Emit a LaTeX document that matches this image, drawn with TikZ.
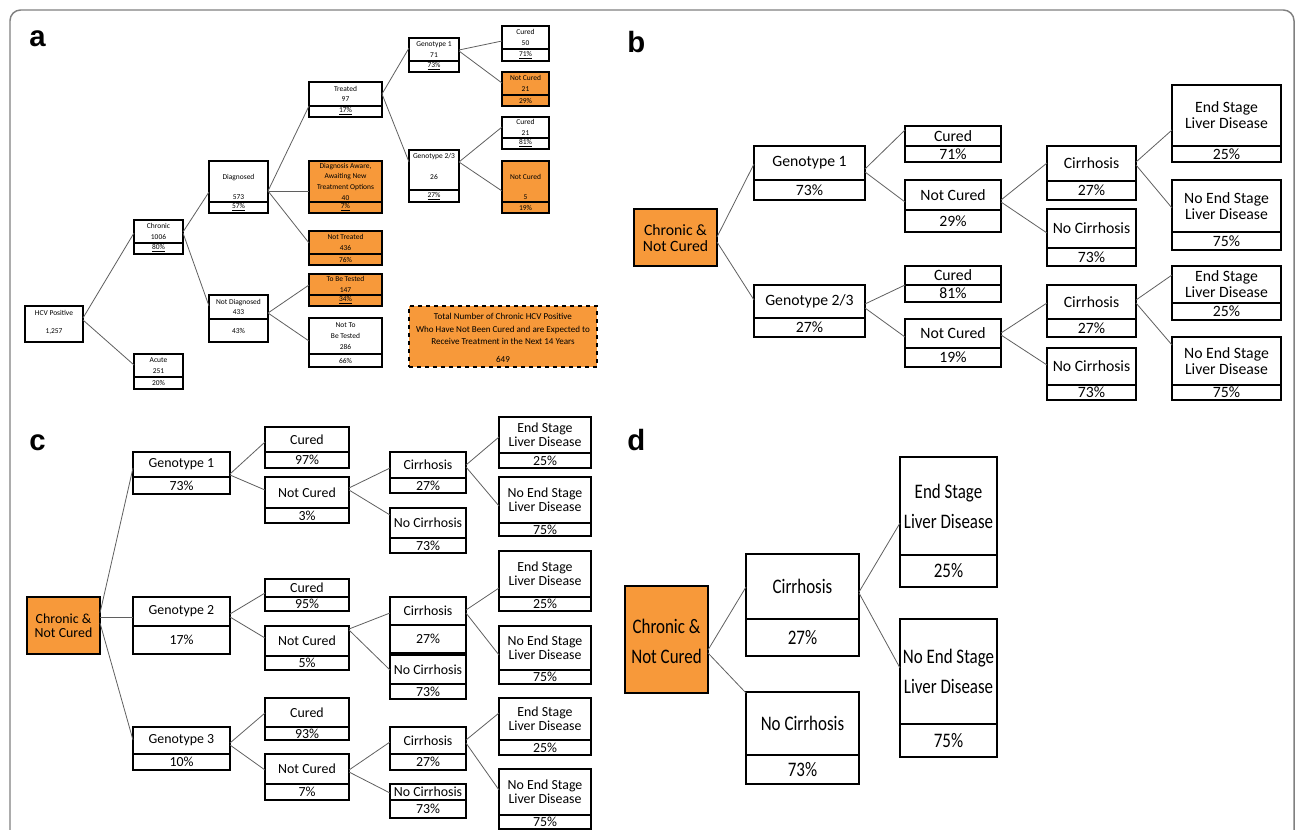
\documentclass[tikz,border=0pt]{standalone}
\usepackage{fontspec}
\setmainfont{Carlito}
\newfontfamily\narrowfont[FakeStretch=0.82]{Carlito}
\newfontfamily\panelfont{Liberation Sans}
\definecolor{orng}{RGB}{247,153,58}
\definecolor{connc}{RGB}{95,95,95}
\newcommand\bx[9]{%
  \node[box,#7,minimum width={(#4-#2)*0.75pt},minimum height={(#5-#3)*0.75pt}] (#1) at ({(#2+#4)/2},{(#3+#5)/2}) {};
  \draw[divl] (#1.west |- 0,#6) -- (#1.east |- 0,#6);
  \node[txt,tt] (#1-t) at ({(#2+#4)/2},{(#3+#6)/2}) {#8};
  \node[txt] (#1-p) at ({(#2+#4)/2},{(#6+#5)/2}) {#9};
}
\tikzset{
  tt/.style={},
  conn/.style={draw=connc, line width=0.6pt},
  panellabel/.style={font=\panelfont\bfseries\fontsize{22pt}{22pt}\selectfont, inner sep=0pt, anchor=base west},
}
\begin{document}
\begin{tikzpicture}[x=0.75pt,y=-0.75pt]
\useasboundingbox (0,0) rectangle (1295,830);
\draw[draw=gray, line width=1.1pt, rounded corners=8pt] (10,834) -- (10,10) -- (1294,10) -- (1294,834);

\node[panellabel] (la) at (29,47) {a};
\node[panellabel] (lb) at (627,53) {b};
\node[panellabel] (lc) at (29,450) {c};
\node[panellabel] (ld) at (627,450) {d};

% ---------------- panel a ----------------
\begin{scope}
\tikzset{
  box/.style={draw=black, line width=0.9pt, inner sep=0pt, outer sep=0pt},
  divl/.style={draw=black, line width=0.9pt},
  txt/.style={inner sep=0pt, align=center, font=\fontsize{5.6pt}{8pt}\selectfont},
}
\tikzset{tt/.style={yshift=1.5pt}}
\bx{hcv}{25}{306}{83}{342}{342}{}{HCV Positive\\[5.5pt]1,257}{}
\tikzset{tt/.style={}}
\bx{chronic}{134}{220}{183}{254}{243}{}{Chronic\\1006}{\underline{80\%}}
\bx{acute}{134}{354}{183}{389}{377}{}{Acute\\251}{20\%}
\tikzset{tt/.style={yshift=-4pt}}
\bx{diag}{209}{161}{268}{213}{202}{}{Diagnosed\\[7pt]573}{\underline{57\%}}
\tikzset{tt/.style={}}
\bx{notdiag}{209}{295}{268}{342}{319}{}{Not Diagnosed\\433}{43\%}
\bx{treated}{309}{82}{382}{117}{106}{}{Treated\\97}{\underline{17\%}}
\bx{aware}{309}{161}{382}{213}{202}{fill=orng}{Diagnosis Aware,\\Awaiting New\\Treatment Options\\40}{\underline{7\%}}
\bx{nottreated}{309}{231}{382}{265}{254}{fill=orng}{Not Treated\\436}{76\%}
\bx{tobetested}{309}{274}{382}{306}{295}{fill=orng}{To Be Tested\\147}{\underline{34\%}}
\bx{nottobe}{309}{318}{382}{367}{354}{}{Not To\\Be Tested\\286}{66\%}
\bx{gonea}{409}{38}{459}{72}{61}{}{Genotype 1\\71}{\underline{73\%}}
\tikzset{tt/.style={yshift=2.6pt}}
\bx{gtwoa}{409}{150}{459}{202}{190}{}{Genotype 2/3\\[7.75pt]26}{\underline{27\%}}
\tikzset{tt/.style={}}
\bx{curedonea}{502}{26}{549}{61}{49}{}{Cured\\50}{\underline{71\%}}
\bx{notcuredonea}{502}{72}{549}{106}{95}{fill=orng}{Not Cured\\21}{29\%}
\bx{curedtwoa}{502}{117}{549}{149}{138}{}{Cured\\21}{\underline{81\%}}
\tikzset{tt/.style={yshift=-4pt}}
\bx{notcuredtwoa}{502}{161}{549}{213}{202}{fill=orng}{Not Cured\\[7pt]5}{19\%}
\tikzset{tt/.style={}}
\node[box, fill=orng, dashed, minimum width={188*0.75pt}, minimum height={61*0.75pt}] (total) at (503,336.5) {};
\node[inner sep=0pt, align=center, font=\fontsize{6.8pt}{9.4pt}\selectfont] (total-t) at (503,338)
  {Total Number of Chronic HCV Positive\\Who Have Not Been Cured and are Expected to\\Receive Treatment in the Next 14 Years\\[4pt]649};

\draw[conn] (hcv.east |- 0,318) -- (chronic.west |- 0,233);
\draw[conn] (hcv.east |- 0,320) -- (acute.west |- 0,365);
\draw[conn] (chronic.east |- 0,232) -- (diag.west |- 0,192);
\draw[conn] (chronic.east |- 0,233) -- (notdiag.west |- 0,306);
\draw[conn] (diag.east |- 0,191) -- (treated.west |- 0,106);
\draw[conn] (diag.east |- 0,191) -- (aware.west |- 0,191);
\draw[conn] (diag.east |- 0,191) -- (nottreated.west |- 0,243);
\draw[conn] (notdiag.east |- 0,313) -- (tobetested.west |- 0,285);
\draw[conn] (notdiag.east |- 0,313) -- (nottobe.west |- 0,341);
\draw[conn] (treated.east |- 0,94) -- (gonea.west |- 0,48);
\draw[conn] (treated.east |- 0,94) -- (gtwoa.west |- 0,162);
\draw[conn] (gonea.east |- 0,50) -- (curedonea.west |- 0,41);
\draw[conn] (gonea.east |- 0,51) -- (notcuredonea.west |- 0,83);
\draw[conn] (gtwoa.east |- 0,162) -- (curedtwoa.west |- 0,127);
\draw[conn] (gtwoa.east |- 0,162) -- (notcuredtwoa.west |- 0,191);
\end{scope}

% ---------------- panel b ----------------
\begin{scope}
\tikzset{
  box/.style={draw=black, line width=1.4pt, inner sep=0pt, outer sep=0pt},
  divl/.style={draw=black, line width=1.4pt},
  txt/.style={inner sep=0pt, align=center, font=\fontsize{11.8pt}{12pt}\selectfont},
}
\node[box, fill=orng, minimum width={83*0.75pt}, minimum height={57*0.75pt}] (chb) at (675.5,237.5) {};
\node[txt] (chb-t) at (675.5,238) {Chronic \&\\Not Cured};
\bx{gob}{754}{146}{865}{200}{180}{}{Genotype 1}{73\%}
\bx{gtb}{754}{285}{865}{337}{318}{}{Genotype 2/3}{27\%}
\bx{cob}{905}{126}{1001}{162}{146}{}{Cured}{71\%}
\bx{ncob}{905}{180}{1001}{232}{210}{}{Not Cured}{29\%}
\bx{ctb}{905}{266}{1001}{302}{285}{}{Cured}{81\%}
\bx{nctb}{905}{319}{1001}{367}{348}{}{Not Cured}{19\%}
\bx{ciob}{1047}{146}{1136}{200}{181}{}{Cirrhosis}{27\%}
\bx{nciob}{1047}{209}{1136}{266}{248}{}{No Cirrhosis}{73\%}
\bx{esob}{1172}{85}{1281}{162}{146}{}{End Stage\\Liver Disease}{25\%}
\bx{nesob}{1172}{180}{1281}{250}{232}{}{No End Stage\\Liver Disease}{75\%}
\bx{citb}{1047}{285}{1136}{337}{319}{}{Cirrhosis}{27\%}
\bx{ncitb}{1047}{348}{1136}{400}{385}{}{No Cirrhosis}{73\%}
\bx{estb}{1172}{266}{1281}{320}{303}{}{End Stage\\Liver Disease}{25\%}
\bx{nestb}{1172}{337}{1281}{400}{385}{}{No End Stage\\Liver Disease}{75\%}

\draw[conn] (chb.east |- 0,237) -- (gob.west |- 0,164);
\draw[conn] (chb.east |- 0,242) -- (gtb.west |- 0,300);
\draw[conn] (gob.east |- 0,169) -- (cob.west |- 0,130);
\draw[conn] (gob.east |- 0,172) -- (ncob.west |- 0,202);
\draw[conn] (gtb.east |- 0,304) -- (ctb.west |- 0,285);
\draw[conn] (gtb.east |- 0,308) -- (nctb.west |- 0,337);
\draw[conn] (ncob.east |- 0,200) -- (ciob.west |- 0,163);
\draw[conn] (ncob.east |- 0,202) -- (nciob.west |- 0,233);
\draw[conn] (ciob.east |- 0,162) -- (esob.west |- 0,130);
\draw[conn] (ciob.east |- 0,165) -- (nesob.west |- 0,208);
\draw[conn] (nctb.east |- 0,333) -- (citb.west |- 0,303);
\draw[conn] (nctb.east |- 0,335) -- (ncitb.west |- 0,365);
\draw[conn] (citb.east |- 0,300) -- (estb.west |- 0,275);
\draw[conn] (citb.east |- 0,303) -- (nestb.west |- 0,345);
\end{scope}

% ---------------- panel c ----------------
\begin{scope}
\tikzset{
  box/.style={draw=black, line width=1.3pt, inner sep=0pt, outer sep=0pt},
  divl/.style={draw=black, line width=1.3pt},
  txt/.style={inner sep=0pt, align=center, font=\fontsize{10.4pt}{10.5pt}\selectfont},
}
\node[box, fill=orng, minimum width={73*0.75pt}, minimum height={57*0.75pt}] (chc) at (63.5,625.5) {};
\node[txt] (chc-t) at (63.5,625.5) {Chronic \&\\Not Cured};
\bx{goc}{133}{452}{230}{494}{477}{}{Genotype 1}{73\%}
\bx{gtc}{133}{597}{230}{654}{626}{}{Genotype 2}{17\%}
\bx{ghc}{133}{727}{230}{770}{754}{}{Genotype 3}{10\%}
\bx{coc}{265}{427}{349}{468}{452}{}{Cured}{97\%}
\bx{ncoc}{265}{477}{349}{523}{508}{}{Not Cured}{3\%}
\bx{ctc}{265}{579}{349}{611}{597}{}{Cured}{95\%}
\bx{nctc}{265}{626}{349}{670}{656}{}{Not Cured}{5\%}
\bx{chhc}{265}{698}{349}{740}{727}{}{Cured}{93\%}
\bx{nchc}{265}{754}{349}{800}{784}{}{Not Cured}{7\%}
\bx{cioc}{390}{452}{466}{493}{478}{}{Cirrhosis}{27\%}
\bx{ncioc}{390}{508}{466}{553}{538}{}{No Cirrhosis}{73\%}
\bx{esoc}{499}{417}{591}{468}{453}{}{End Stage\\Liver Disease}{25\%}
\bx{nesoc}{499}{477}{591}{536}{523}{}{No End Stage\\Liver Disease}{75\%}
\bx{citc}{390}{597}{466}{653}{625}{}{Cirrhosis}{27\%}
\bx{ncitc}{390}{655}{466}{699}{684}{}{No Cirrhosis}{73\%}
\bx{estc}{499}{551}{591}{611}{597}{}{End Stage\\Liver Disease}{25\%}
\bx{nestc}{499}{626}{591}{684}{670}{}{No End Stage\\Liver Disease}{75\%}
\bx{cihc}{390}{727}{466}{770}{754}{}{Cirrhosis}{27\%}
\bx{ncihc}{390}{784}{466}{818}{800}{}{No Cirrhosis}{73\%}
\bx{eshc}{499}{698}{591}{755}{740}{}{End Stage\\Liver Disease}{25\%}
\bx{neshc}{499}{769}{591}{829}{815}{}{No End Stage\\Liver Disease}{75\%}

\draw[conn] (chc.east |- 0,613) -- (goc.west |- 0,468);
\draw[conn] (chc.east |- 0,617) -- (gtc.west |- 0,617);
\draw[conn] (chc.east |- 0,623) -- (ghc.west |- 0,740);
\draw[conn] (goc.east |- 0,474) -- (coc.west |- 0,442);
\draw[conn] (goc.east |- 0,475) -- (ncoc.west |- 0,490);
\draw[conn] (gtc.east |- 0,614) -- (ctc.west |- 0,593);
\draw[conn] (gtc.east |- 0,617) -- (nctc.west |- 0,638);
\draw[conn] (ghc.east |- 0,743) -- (chhc.west |- 0,713);
\draw[conn] (ghc.east |- 0,745) -- (nchc.west |- 0,770);
\draw[conn] (ncoc.east |- 0,488) -- (cioc.west |- 0,468);
\draw[conn] (ncoc.east |- 0,490) -- (ncioc.west |- 0,515);
\draw[conn] (cioc.east |- 0,465) -- (esoc.west |- 0,437);
\draw[conn] (cioc.east |- 0,467) -- (nesoc.west |- 0,506);
\draw[conn] (nctc.east |- 0,629) -- (citc.west |- 0,613);
\draw[conn] (nctc.east |- 0,630) -- (ncitc.west |- 0,670);
\draw[conn] (citc.east |- 0,610) -- (estc.west |- 0,588);
\draw[conn] (citc.east |- 0,613) -- (nestc.west |- 0,655);
\draw[conn] (nchc.east |- 0,770) -- (cihc.west |- 0,742);
\draw[conn] (nchc.east |- 0,772) -- (ncihc.west |- 0,793);
\draw[conn] (cihc.east |- 0,740) -- (eshc.west |- 0,713);
\draw[conn] (cihc.east |- 0,743) -- (neshc.west |- 0,790);
\end{scope}

% ---------------- panel d ----------------
\begin{scope}
\tikzset{
  box/.style={draw=black, line width=1.5pt, inner sep=0pt, outer sep=0pt},
  divl/.style={draw=black, line width=1.5pt},
  txt/.style={inner sep=0pt, align=center, font=\narrowfont\fontsize{15.5pt}{22.5pt}\selectfont},
}
\node[box, fill=orng, minimum width={83*0.75pt}, minimum height={107*0.75pt}] (chd) at (666.5,639.5) {};
\node[txt] (chd-t) at (666.5,641) {Chronic \&\\Not Cured};
\bx{cid}{746}{554}{859}{656}{619}{}{Cirrhosis}{27\%}
\bx{ncid}{746}{692}{859}{784}{755}{}{No Cirrhosis}{73\%}
\bx{esd}{900}{457}{997}{587}{555}{}{End Stage\\Liver Disease}{25\%}
\bx{nesd}{900}{619}{997}{757}{724}{}{No End Stage\\Liver Disease}{75\%}

\draw[conn] (chd.east |- 0,650) -- (cid.west |- 0,587);
\draw[conn] (chd.east |- 0,653) -- (ncid.west |- 0,693);
\draw[conn] (cid.east |- 0,592) -- (esd.west |- 0,523);
\draw[conn] (cid.east |- 0,593) -- (nesd.west |- 0,668);
\end{scope}
\end{tikzpicture}
\end{document}
